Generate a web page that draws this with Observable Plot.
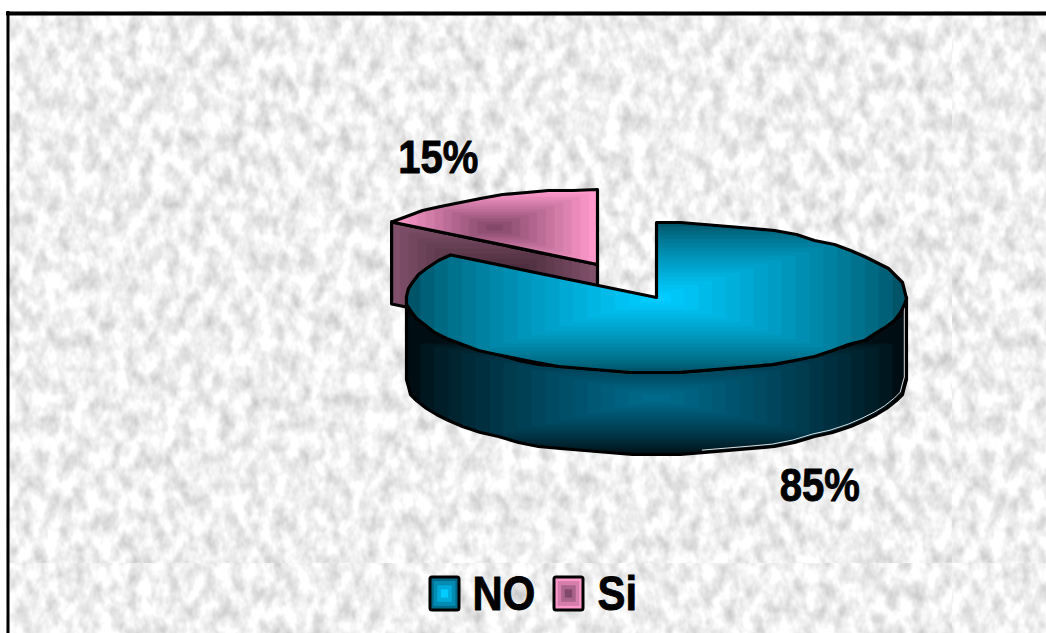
<!DOCTYPE html>
<html>
<head>
<meta charset="utf-8">
<style>html,body{margin:0;padding:0;background:#fff;overflow:hidden}svg{display:block}</style>
<script src="https://cdn.jsdelivr.net/npm/d3@7"></script>
<script src="https://cdn.jsdelivr.net/npm/@observablehq/plot@0.6"></script>
</head>
<body>
<script>
const categories = ["NO", "Si"];
const shares = [84.6, 15.4];
const offsetX = [0, -59];
const offsetY = [0, -33];
const labelNudgeX = [-3, 7];
const labelNudgeY = [1, 0];
const legendSwatchX = [430, 554];
const legendTextX = [472, 597];

const W = 1046, H = 633;
const center = {x: 656, y: 297}, rx = 250, ry = 75, depth = 82;
const total = d3.sum(shares);
const turn = 2 * Math.PI;
const fractions = d3.cumsum([0, ...shares]).map(v => v / total * turn);
const slices = categories.map((name, i) => ({
  name, share: shares[i], a0: fractions[i], a1: fractions[i + 1],
  c: {x: center.x + offsetX[i], y: center.y + offsetY[i]}, i
}));
const pt = (c, a, dz = 0) => ({x: c.x + rx * Math.sin(a), y: c.y - ry * Math.cos(a) + dz});
// the reference's outlines are coarse: sample the ellipse sparsely, on a small pixel grid
const grid = v => Math.round(v / 2) * 2;
const arc = (c, a0, a1, dz = 0) => {
  const n = Math.max(4, Math.round(Math.abs(a1 - a0) / turn * 64));
  return d3.range(0, n + 1).map(i => {
    const p = pt(c, a0 + (a1 - a0) * i / n, dz);
    return i === 0 || i === n ? p : {x: grid(p.x), y: grid(p.y)};
  });
};
const [no, si] = slices;

const closed = pts => [...pts, pts[0]];
const noTop = closed([no.c, ...arc(no.c, no.a0, no.a1)]);
const noFrontBottom = arc(no.c, turn / 4, 3 * turn / 4, depth);
const noSide = closed([...arc(no.c, turn / 4, 3 * turn / 4), ...noFrontBottom.slice().reverse()]);
const noGlint = [{x: no.c.x + rx - 2.2, y: no.c.y + 6}, ...noFrontBottom.slice(0, 15).map(p => ({x: p.x - 2.2, y: p.y - 2.4}))];
const siTop = closed([si.c, ...arc(si.c, si.a0, si.a1)]);
const siP = pt(si.c, si.a0);
const siWall = closed([siP, si.c, {x: si.c.x, y: si.c.y + depth}, {x: siP.x, y: siP.y + depth}]);

const labelPos = s => {
  const m = (s.a0 + s.a1) / 2, front = Math.cos(m) < 0;
  return {
    x: s.c.x + 1.43 * rx * Math.sin(m) + labelNudgeX[s.i],
    y: s.c.y - 1.6 * ry * Math.cos(m) + (front ? depth : 0) + labelNudgeY[s.i],
    text: d3.format(".0f")(s.share) + "%"
  };
};
const labels = slices.map(labelPos);
const legendY = 594;
const legendBoxes = categories.map((name, i) => ({name, x1: legendSwatchX[i], x2: legendSwatchX[i] + 29, y1: 577, y2: 610, fill: `url(#lg${i})`}));
const legendTexts = categories.map((name, i) => ({name, x: legendTextX[i], y: legendY}));

// stepped rectangular gradients, as a pattern of concentric rectangles
function bands(id, x0, y0, x1, y1, edge, mid, n, gamma = 1, padTop = 0) {
  const col = d3.interpolateRgb(edge, mid);
  const w = x1 - x0, h = y1 - y0;
  let s = `<pattern id="${id}" patternUnits="userSpaceOnUse" x="${x0}" y="${y0 - padTop}" width="${w}" height="${h + padTop}">`;
  s += `<rect width="${w}" height="${h + padTop}" fill="${col(0)}"/>`;
  for (let i = 0; i < n; i++) {
    const t = i / n;
    s += `<rect x="${t * w / 2}" y="${padTop + t * h / 2}" width="${w * (1 - t)}" height="${h * (1 - t)}" fill="${col(Math.pow(i / (n - 1), gamma))}"/>`;
  }
  return s + `</pattern>`;
}

const chart = Plot.plot({
  width: W, height: H, margin: 0,
  x: {axis: null, domain: [0, W], range: [0, W]},
  y: {axis: null, domain: [0, H], range: [0, H]},
  style: {background: "#fff"},
  marks: [
    Plot.rect([{x1: 6, x2: W, y1: 11, y2: H}], {x1: "x1", x2: "x2", y1: "y1", y2: "y2", fill: "url(#tex)"}),
    Plot.ruleY([13], {x1: 6, x2: W, stroke: "#000", strokeWidth: 4}),
    Plot.ruleX([7.5], {y1: 11, y2: H, stroke: "#000", strokeWidth: 3}),
    Plot.line(siWall, {x: "x", y: "y", fill: "url(#siWall)", stroke: "#000", strokeWidth: 3.2}),
    Plot.line(siTop, {x: "x", y: "y", fill: "url(#siTop)", stroke: "#000", strokeWidth: 3.2}),
    Plot.line(noSide, {x: "x", y: "y", fill: "url(#noSide)", stroke: "#000", strokeWidth: 3.2}),
    Plot.line(noGlint, {x: "x", y: "y", stroke: "#fff", strokeWidth: 1, strokeOpacity: 0.85}),
    Plot.line(noTop, {x: "x", y: "y", fill: "url(#noTop)", stroke: "#000", strokeWidth: 3.2}),
    Plot.text(labels, {x: "x", y: "y", text: "text", fontFamily: "Liberation Sans", fontWeight: "bold", fontSize: 46, fill: "#000", stroke: "#000", strokeWidth: 0.9}),
    Plot.rect(legendBoxes, {x1: "x1", x2: "x2", y1: "y1", y2: "y2", fill: "fill", stroke: "#000", strokeWidth: 3, r: 2}),
    Plot.text(legendTexts, {x: "x", y: "y", text: "name", textAnchor: "start", fontFamily: "Liberation Sans", fontWeight: "bold", fontSize: 48, fill: "#000", stroke: "#000", strokeWidth: 0.9})
  ]
});

const defs = document.createElementNS("http://www.w3.org/2000/svg", "defs");
defs.innerHTML = `
<filter id="noise" x="0" y="0" width="100%" height="100%" color-interpolation-filters="sRGB">
  <feTurbulence type="fractalNoise" baseFrequency="0.075 0.05" numOctaves="3" seed="7"/>
  <feColorMatrix type="matrix" values="0.38 0 0 0 0.75  0.38 0 0 0 0.75  0.38 0 0 0 0.75  0 0 0 0 1"/>
</filter>
<pattern id="tex" patternUnits="userSpaceOnUse" x="6" y="12" width="946" height="551">
  <rect width="946" height="551" filter="url(#noise)"/>
</pattern>` +
  bands("noTop", 406, 222, 906, 372, "#005468", "#00ccff", 18, 0.8) +
  bands("noSide", 406, 340, 906, 455, "#000d12", "#006a8c", 18, 0.8, 60) +
  bands("siTop", 391, 190, 597, 264, "#ff99cc", "#84486a", 12) +
  bands("siWall", 391, 222, 597, 346, "#804f69", "#3a222e", 12) +
  bands("lg0", 430, 577, 459, 610, "#006a8c", "#00ccff", 4) +
  bands("lg1", 554, 577, 583, 610, "#ff99cc", "#80486a", 4);
chart.prepend(defs);
document.body.appendChild(chart);

// the reference's type is slightly condensed
chart.querySelectorAll("text").forEach(t => {
  t.setAttribute("textLength", (t.getComputedTextLength() * 0.87).toFixed(1));
  t.setAttribute("lengthAdjust", "spacingAndGlyphs");
});
</script>
</body>
</html>
